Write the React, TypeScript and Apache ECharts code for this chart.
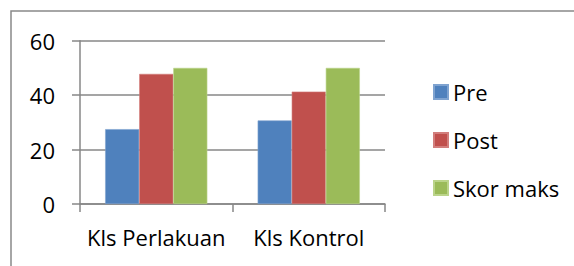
import React, { useEffect, useRef } from "react";
import * as echarts from "echarts";

const categories = ["Kls Perlakuan", "Kls Kontrol"];
const preValues = [27.5, 30.7];
const postValues = [47.8, 41.3];
const skorMaksValues = [50, 50];
const seriesNames = ["Pre", "Post", "Skor maks"];

export default function App() {
  const ref = useRef<HTMLDivElement>(null);
  useEffect(() => {
    if (!ref.current) return;
    const chart = echarts.init(ref.current, null, { renderer: "svg" });
    const font = "'Open Sans', sans-serif";
    const axisColor = "#878787";
    chart.setOption({
      animation: false,
      backgroundColor: "#ffffff",
      textStyle: { fontFamily: font },
      graphic: [
        {
          type: "rect",
          shape: { x: 11, y: 11, width: 700, height: 400 },
          style: { fill: "none", stroke: "#898989", lineWidth: 1.5 },
          silent: true,
        },
      ],
      grid: { left: 80, right: 189, top: 40.7, bottom: 62, containLabel: false },
      legend: {
        orient: "vertical",
        left: 428,
        top: 76,
        itemWidth: 14,
        itemHeight: 14,
        itemGap: 26,
        icon: "rect",
        textStyle: { fontSize: 22, color: "#000", fontFamily: font, padding: [0, 0, 0, 0] },
        data: seriesNames,
      },
      xAxis: {
        type: "category",
        data: categories,
        axisLine: { show: true, lineStyle: { color: axisColor, width: 1.5 } },
        axisTick: { show: true, length: 8, lineStyle: { color: axisColor, width: 1.5 } },
        axisLabel: { fontSize: 22, color: "#000", margin: 22, fontFamily: font, interval: 0 },
      },
      yAxis: {
        type: "value",
        min: 0,
        max: 60,
        interval: 20,
        axisLine: { show: true, lineStyle: { color: axisColor, width: 1.5 } },
        axisTick: { show: true, length: 8, inside: false, lineStyle: { color: axisColor, width: 1.5 } },
        splitLine: { show: true, lineStyle: { color: axisColor, width: 1.5 } },
        axisLabel: { fontSize: 22, color: "#000", margin: 25, fontFamily: font },
      },
      series: [
        {
          name: seriesNames[0],
          type: "bar",
          data: preValues,
          barGap: "0%",
          barCategoryGap: "33%",
          itemStyle: { color: "#4F81BD", borderColor: "#7FA3D0", borderWidth: 0.6 },
        },
        {
          name: seriesNames[1],
          type: "bar",
          data: postValues,
          barGap: "0%",
          barCategoryGap: "33%",
          itemStyle: { color: "#C0504D", borderColor: "#D27E7C", borderWidth: 0.6 },
        },
        {
          name: seriesNames[2],
          type: "bar",
          data: skorMaksValues,
          barGap: "0%",
          barCategoryGap: "33%",
          itemStyle: { color: "#9BBB59", borderColor: "#BBD48A", borderWidth: 0.6 },
        },
      ],
    });
    return () => chart.dispose();
  }, []);
  return (
    <div
      ref={ref}
      style={{ position: "fixed", left: 0, top: 0, width: 574, height: 266 }}
    />
  );
}
